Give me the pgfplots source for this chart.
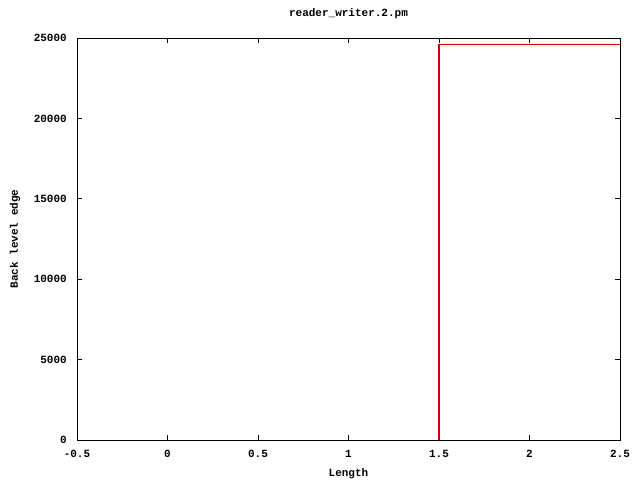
\documentclass[border=0pt]{standalone}
\usepackage{fontspec}
\setmainfont{Liberation Mono}
\usepackage{pgfplots}
\pgfplotsset{compat=1.18}
\begin{document}
\begin{tikzpicture}[x=1pt,y=1pt]
\path[fill=white] (0,0) rectangle (640,480);
\begin{axis}[
  at={(77pt,40pt)}, anchor=south west,
  scale only axis, width=543pt, height=402pt,
  xmin=-0.5, xmax=2.5, ymin=0, ymax=25000,
  scaled x ticks=false, scaled y ticks=false,
  xtick={-0.5,0,0.5,1,1.5,2,2.5},
  xticklabels={-0.5,0,0.5,1,1.5,2,2.5},
  ytick={0,5000,10000,15000,20000,25000},
  yticklabels={0,5000,10000,15000,20000,25000},
  tick align=inside, major tick length=5pt,
  every tick/.style={black, line width=0.9pt},
  axis line style={line width=0.9pt},
  font=\fontsize{11}{13}\selectfont\bfseries,
  xticklabel style={anchor=base, inner sep=0pt, yshift=-17pt},
  yticklabel style={anchor=east, inner sep=0pt, xshift=-10pt},
  title={reader\_writer.2.pm},
  title style={at={(axis description cs:0.5,1.0398)}, anchor=base, inner sep=0pt},
  xlabel={Length},
  xlabel style={at={(axis description cs:0.5,-0.0896)}, anchor=base, inner sep=0pt},
  ylabel={Back level edge},
  ylabel style={at={(axis description cs:-0.1087,0.5)}, anchor=base, inner sep=0pt},
]
\addplot[sharp plot, color={rgb,255:red,204;green,0;blue,0}, line width=1.1pt] coordinates {
  (1.5,0) (1.5,24570) (2.5,24570)
};
\end{axis}
\end{tikzpicture}
\end{document}
